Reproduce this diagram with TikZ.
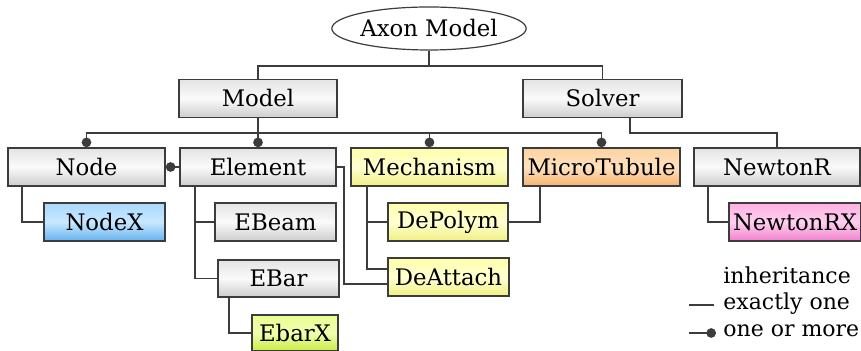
\documentclass[tikz,border=0pt]{standalone}
\usepackage{fontspec}
\setmainfont{DejaVu Serif}
\usetikzlibrary{positioning,arrows.meta,calc,shapes.geometric}
\usepackage{xcolor}
\definecolor{lineclr}{RGB}{60,60,60}
\definecolor{grayT}{RGB}{228,228,228}\definecolor{grayM}{RGB}{250,250,250}\definecolor{grayB}{RGB}{205,205,205}
\definecolor{blueT}{RGB}{170,216,255}\definecolor{blueM}{RGB}{200,232,255}\definecolor{blueB}{RGB}{100,178,240}
\definecolor{yellT}{RGB}{255,255,170}\definecolor{yellM}{RGB}{255,255,210}\definecolor{yellB}{RGB}{240,240,130}
\definecolor{oranT}{RGB}{252,210,160}\definecolor{oranM}{RGB}{255,226,192}\definecolor{oranB}{RGB}{244,178,112}
\definecolor{limeT}{RGB}{232,255,144}\definecolor{limeM}{RGB}{240,255,176}\definecolor{limeB}{RGB}{200,236,64}
\definecolor{pinkT}{RGB}{255,176,224}\definecolor{pinkM}{RGB}{255,208,240}\definecolor{pinkB}{RGB}{240,128,204}

\begin{document}
\begin{tikzpicture}[x=0.5pt,y=-0.5pt,
  every node/.style={font=\fontsize{11.4}{13}\selectfont},
  cls/.style={draw=lineclr,line width=0.8pt,rectangle,minimum height=19pt,inner sep=0pt,
    top color=grayT,bottom color=grayB,middle color=grayM},
  blue/.style={top color=blueT,bottom color=blueB,middle color=blueM},
  yell/.style={top color=yellT,bottom color=yellB,middle color=yellM},
  oran/.style={top color=oranT,bottom color=oranB,middle color=oranM},
  lime/.style={top color=limeT,bottom color=limeB,middle color=limeM},
  pink/.style={top color=pinkT,bottom color=pinkB,middle color=pinkM},
  legend/.style={anchor=west,inner sep=0pt,font=\fontsize{11}{13}\selectfont},
  link/.style={draw=lineclr,line width=0.75pt},
  dot/.tip={Circle[length=4.8pt]}]
\useasboundingbox (0,0) rectangle (861,351);
\node[draw=lineclr,line width=0.6pt,ellipse,minimum width=91pt,minimum height=21.5pt,inner sep=0pt] (axon) at (429,28.5) {Axon Model};
\node[cls,minimum width=79pt] (model) at (258,98.5) {Model};
\node[cls,minimum width=79.5pt] (solver) at (602.5,98.5) {Solver};
\node[cls,minimum width=78.5pt] (node) at (86.5,167) {Node};
\node[cls,minimum width=78pt] (element) at (258,167) {Element};
\node[cls,yell,minimum width=78.5pt] (mech) at (429.5,167) {Mechanism};
\node[cls,oran,minimum width=78.5pt] (micro) at (601.5,167) {MicroTubule};
\node[cls,minimum width=83pt] (newton) at (777,167) {NewtonR};
\node[cls,blue,minimum width=60.5pt] (nodex) at (104.5,222) {NodeX};
\node[cls,minimum width=60.5pt] (ebeam) at (275.5,222) {EBeam};
\node[cls,minimum width=60.5pt,minimum height=18.5pt] (ebar) at (278.5,278.5) {EBar};
\node[cls,lime,minimum width=43pt,minimum height=18pt] (ebarx) at (295,333) {EbarX};
\node[cls,yell,minimum width=60pt] (depolym) at (448,222) {DePolym};
\node[cls,yell,minimum width=60.5pt] (deattach) at (448.5,277) {DeAttach};
\node[cls,pink,minimum width=66pt] (newtonrx) at (795,222) {NewtonRX};
% bus lines
\coordinate (abus) at (429,66);
\coordinate (mbus) at (258,133);
\coordinate (sbus) at (630,133);
\draw[link] (axon.south) -- (abus) -| (model.north);
\draw[link] (abus) -| (solver.north);
\draw[link] (model.south) -- (mbus);
\draw[link,-dot] (mbus) -| (node.north);
\draw[link,-dot] (mbus) -- (element.north);
\draw[link,-dot] (mbus) -| (mech.north);
\draw[link,-dot] (mbus) -| (micro.north);
\draw[link] (solver.south -| sbus) -- (sbus) -| (newton.north);
\draw[link,dot-] (node.east) -- (element.west);
% children
\draw[link] ($(node.south west)+(15,0)$) |- (nodex.west);
\draw[link] ($(element.south west)+(16,0)$) |- (ebeam.west);
\draw[link] ($(element.south west)+(16,0)$) |- (ebar.west);
\draw[link] ($(ebar.south west)+(12,0)$) |- (ebarx.west);
\draw[link] (element.east) -- ++(7,0) |- ($(deattach.west)+(0,7)$);
\draw[link] ($(mech.south west)+(17,0)$) |- (depolym.west);
\draw[link] ($(mech.south west)+(17,0)$) |- ($(deattach.west)+(0,-8)$);
\draw[link] ($(micro.south west)+(18,0)$) |- (depolym.east);
\draw[link] ($(newton.south west)+(15,0)$) |- (newtonrx.west);
% legend
\node[legend] (inherit) at (723,275) {inheritance};
\node[legend] (exact) at (723,304) {exactly one};
\node[legend] (more) at (723,331) {one or more};
\coordinate (exA) at (689,305);
\coordinate (moA) at (689,333);
\draw[link] (exA) -- ($(exact.west |- exA)+(-9,0)$);
\draw[link,-dot] (moA) -- ($(more.west |- moA)+(-7,0)$);
\end{tikzpicture}
\end{document}
